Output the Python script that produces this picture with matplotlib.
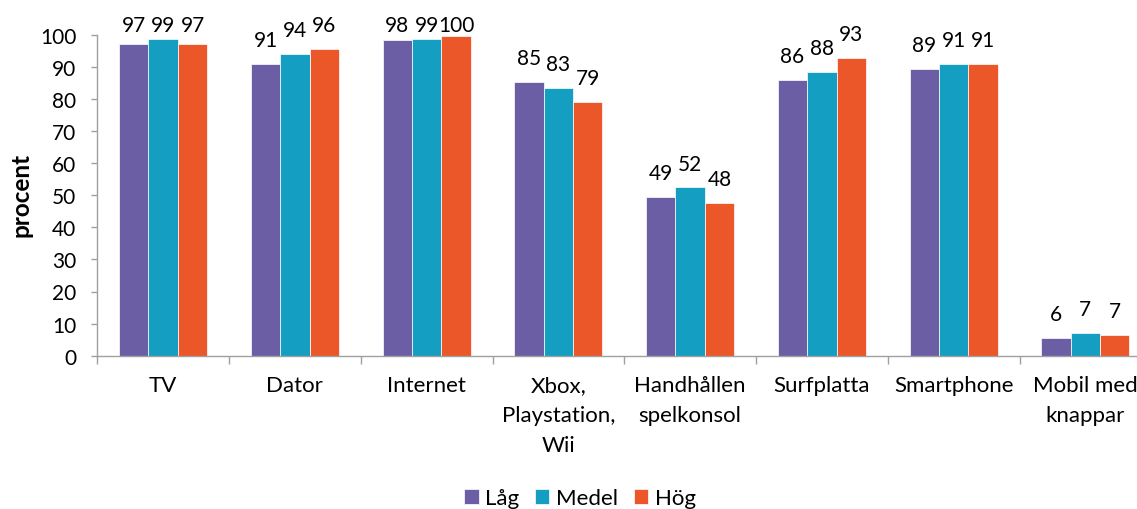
import matplotlib
matplotlib.use("Agg")
import matplotlib.pyplot as plt
import numpy as np

categories = ["TV", "Dator", "Internet", "Xbox,\nPlaystation,\nWii", "Handhållen\nspelkonsol",
              "Surfplatta", "Smartphone", "Mobil med\nknappar"]
series_names = ["Låg", "Medel", "Hög"]
lag = [97.2, 90.8, 98.2, 85.2, 49.4, 86.0, 89.3, 5.6]
medel = [98.6, 94.0, 98.6, 83.4, 52.4, 88.3, 90.8, 7.1]
hog = [97.0, 95.7, 99.6, 78.9, 47.7, 92.6, 90.8, 6.6]
colors = ["#6B5EA4", "#149EC2", "#EB5729"]
yticks = list(range(0, 101, 10))

plt.rcParams["font.family"] = ["Lato", "DejaVu Sans"]
FS = 15
FS_TXT = 16

fig = plt.figure(figsize=(11.37, 5.10), dpi=100)
W, H = 1137, 510
left, right, bottom, top = 97.3, 1151.3, 356.7, 35.7
ax = fig.add_axes([left / W, 1 - bottom / H, (right - left) / W, (bottom - top) / H])

x = np.arange(len(categories))
bw = 0.223
data = [lag, medel, hog]
for i, (vals, c, name) in enumerate(zip(data, colors, series_names)):
    pos = x + (i - 1) * bw
    ax.bar(pos, vals, width=bw, color=c, edgecolor="white", linewidth=0.5, label=name, zorder=2)
    for px, v in zip(pos, vals):
        ly = min(v + 5.6, 101.0)
        ax.text(px, ly, f"{v:.0f}", ha="center", va="baseline", fontsize=FS, color="black", clip_on=False)

ax.set_xlim(-0.5, len(categories) - 0.5)
ax.set_ylim(0, 100)
ax.set_yticks(yticks)
ax.set_yticklabels([str(t) for t in yticks], fontsize=FS)

ax.set_xticks(x)
ax.set_xticklabels(categories, fontsize=FS_TXT, linespacing=1.62)
ax.set_xticks(np.arange(-0.5, len(categories) + 0.5, 1), minor=True)
ax.tick_params(axis="x", which="major", length=0, pad=14)
ax.tick_params(axis="x", which="minor", length=5.5, width=1.0, color="#A0A0A0", direction="out")
ax.tick_params(axis="y", length=4, width=1.0, color="#A0A0A0", pad=11)

for s in ["top", "right"]:
    ax.spines[s].set_visible(False)
for s in ["left", "bottom"]:
    ax.spines[s].set_color("#A0A0A0")
    ax.spines[s].set_linewidth(1.0)

fig.text(20.5 / W, 1 - 195 / H, "procent", rotation=90, ha="center", va="center",
         fontsize=17.5, fontweight="bold")

handles, labels = ax.get_legend_handles_labels()
fig.legend(handles, labels, loc="center", bbox_to_anchor=(580 / W, 1 - 499 / H), ncol=3,
           frameon=False, fontsize=FS_TXT, handlelength=0.65, handleheight=0.65,
           handletextpad=0.3, columnspacing=0.7, borderpad=0)

fig.savefig("out.png", dpi=100)
